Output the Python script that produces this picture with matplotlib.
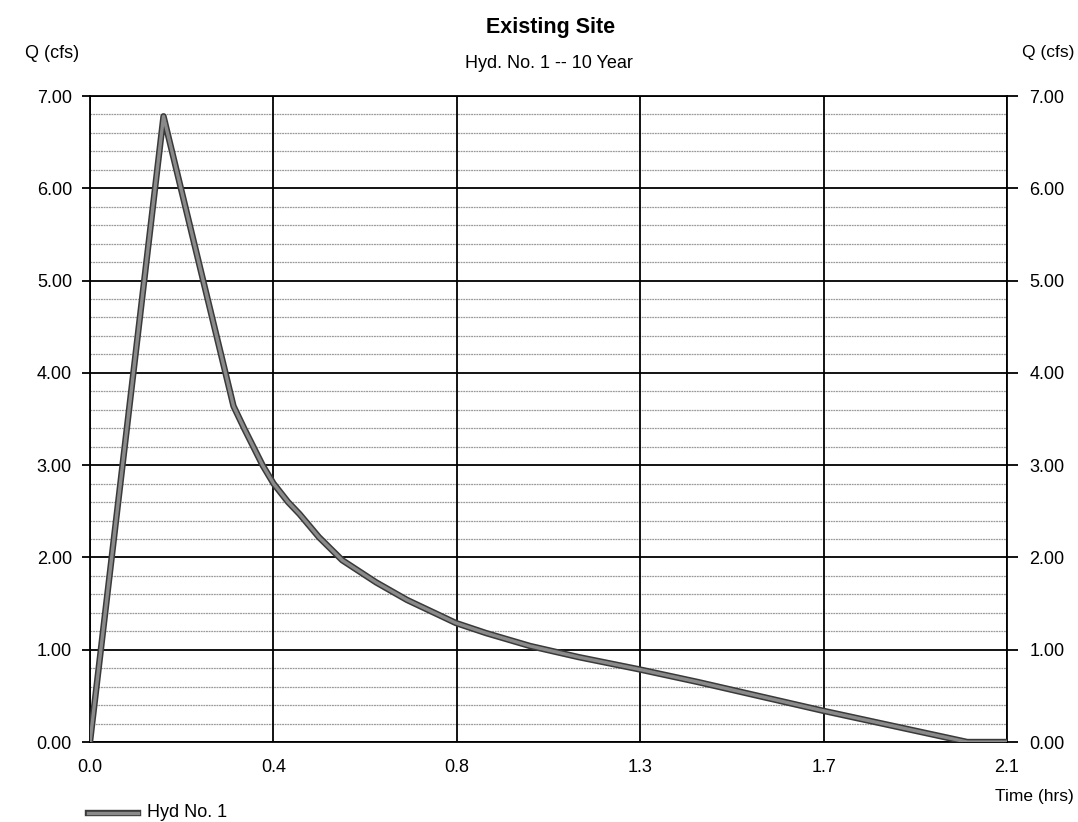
import numpy as np
import matplotlib
matplotlib.use("Agg")
import matplotlib.pyplot as plt
import matplotlib.patheffects as pe

plt.rcParams['font.family'] = ['Liberation Sans', 'DejaVu Sans']

# Hydrograph: time (hrs) and discharge Q (cfs)
time_hrs = [0.0, 0.167, 0.326, 0.35, 0.392, 0.417, 0.45, 0.476, 0.52, 0.573,
            0.65, 0.72, 0.831, 0.90, 1.00, 1.11, 1.245, 1.381, 1.664, 1.993, 2.083]
flow_cfs = [0.0, 6.78, 3.64, 3.40, 3.00, 2.80, 2.60, 2.47, 2.22, 1.97,
            1.73, 1.54, 1.29, 1.18, 1.04, 0.92, 0.79, 0.65, 0.34, 0.0, 0.0]

x_tick_vals = [0.0, 0.41667, 0.83333, 1.25, 1.66667, 2.08333]
x_tick_labels = ['0.0', '0.4', '0.8', '1.3', '1.7', '2.1']
y_major = [0, 1, 2, 3, 4, 5, 6, 7]
y_labels = ['0.00', '1.00', '2.00', '3.00', '4.00', '5.00', '6.00', '7.00']

W, H = 1078, 822
fig = plt.figure(figsize=(W / 100, H / 100), dpi=100)
left, right, top, bottom = 90, 1007, 96, 742
ax = fig.add_axes([left / W, 1 - bottom / H, (right - left) / W, (bottom - top) / H])

ax.set_xlim(x_tick_vals[0], x_tick_vals[-1])
ax.set_ylim(0, 7)

# grid: minor every 0.2 cfs, major every 1 cfs and every x tick
for q in np.arange(0.2, 7.0, 0.2):
    if abs(q - round(q)) > 1e-6:
        ax.axhline(q, color='#9a9a9a', lw=0.9, ls=(0, (1.5, 0.6)), zorder=1)
for q in y_major:
    ax.axhline(q, color='black', lw=1.3, zorder=2)
for t in x_tick_vals:
    ax.axvline(t, color='black', lw=1.3, zorder=2)

line_fx = [pe.Stroke(linewidth=4.6, foreground='#3a3a3a'), pe.Normal()]
ax.plot(time_hrs, flow_cfs, color='#8a8a8a', lw=2.4, zorder=5,
        solid_joinstyle='round', solid_capstyle='round', path_effects=line_fx)

for s in ax.spines.values():
    s.set_color('black')
    s.set_linewidth(1.3)

ax.set_xticks(x_tick_vals)
ax.set_xticklabels(x_tick_labels)
ax.set_yticks(y_major)
ax.set_yticklabels(y_labels)
ax.tick_params(axis='x', length=0, pad=12, labelsize=13)
ax.tick_params(axis='y', length=6, width=1.3, pad=7, labelsize=13)

ax2 = ax.twinx()
ax2.set_ylim(0, 7)
ax2.set_yticks(y_major)
ax2.set_yticklabels(y_labels)
ax2.tick_params(axis='y', length=8, width=1.3, pad=8, labelsize=13)
for s in ax2.spines.values():
    s.set_visible(False)

def ftext(x, y, s, **kw):
    fig.text(x / W, 1 - y / H, s, **kw)

ftext(551, 28, 'Existing Site', ha='center', va='center', fontsize=15.5, fontweight='bold')
ftext(549, 63, 'Hyd. No. 1 -- 10 Year', ha='center', va='center', fontsize=13)
ftext(25, 53, 'Q (cfs)', ha='left', va='center', fontsize=13)
ftext(1074, 53, 'Q (cfs)', ha='right', va='center', fontsize=12.5)
ftext(1074, 796, 'Time (hrs)', ha='right', va='center', fontsize=12.5)

# legend entry
fig.add_artist(plt.Line2D([88 / W, 138 / W], [1 - 813 / H, 1 - 813 / H],
                          color='#8a8a8a', lw=2.4, path_effects=line_fx))
ftext(147, 812, 'Hyd No. 1', ha='left', va='center', fontsize=13)

fig.savefig('out.png', dpi=100, facecolor='white')
